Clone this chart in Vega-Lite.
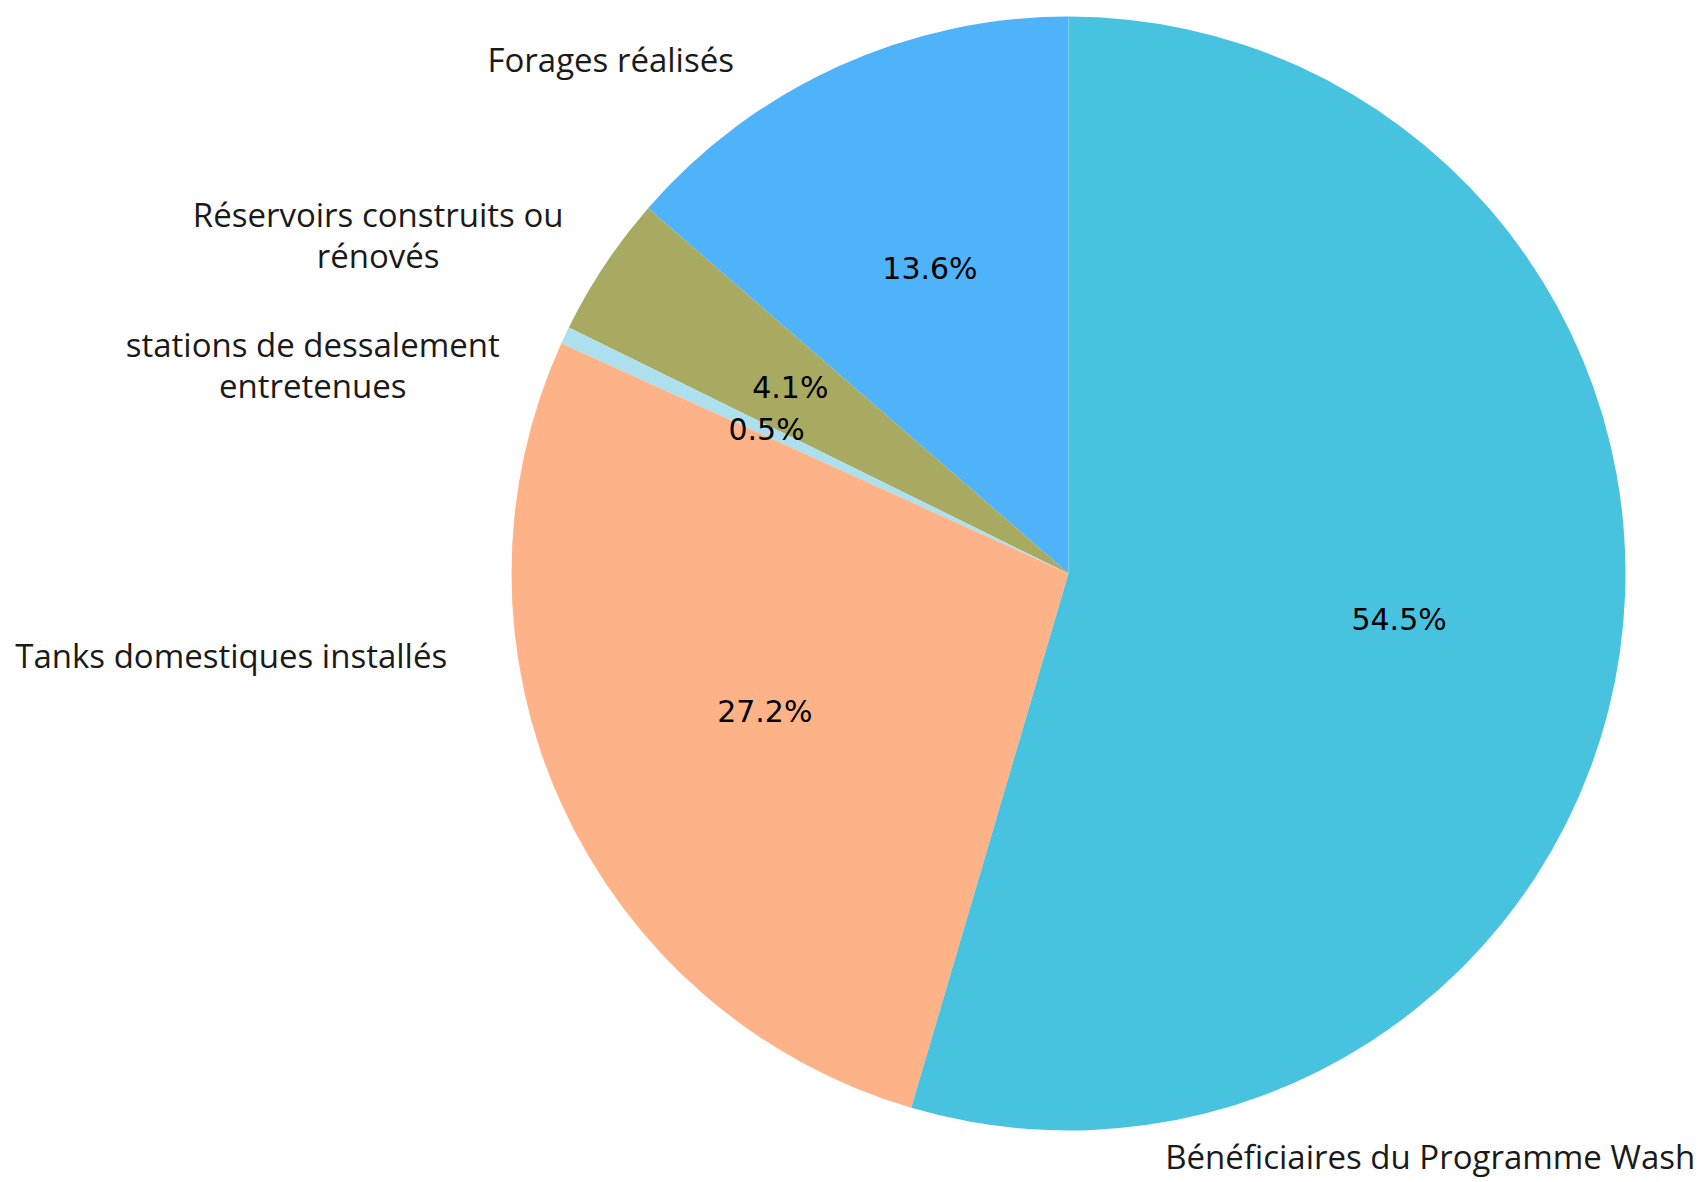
{
  "$schema": "https://vega.github.io/schema/vega-lite/v6.json",
  "width": 1277,
  "height": 1147,
  "autosize": {"type": "none"},
  "padding": {"left": 430, "top": 0, "right": 0, "bottom": 35},
  "background": "white",
  "config": {"view": {"stroke": null}},
  "data": {
    "values": [
      {"category": "Forages réalisés", "share": 0.136},
      {"category": "Réservoirs construits ou\nrénovés", "share": 0.041},
      {"category": "stations de dessalement\nentretenues", "share": 0.005},
      {"category": "Tanks domestiques installés", "share": 0.272},
      {"category": "Bénéficiaires du Programme Wash", "share": 0.545}
    ]
  },
  "transform": [
    {"window": [{"op": "row_number", "as": "idx"}]},
    {"stack": "share", "groupby": [], "offset": "normalize", "sort": [{"field": "idx", "order": "descending"}], "as": ["s0", "s1"]},
    {"calculate": "(datum.s0 + datum.s1) / 2", "as": "mid"}
  ],
  "layer": [
    {
      "mark": {"type": "arc", "radius": 557},
      "encoding": {
        "theta": {"field": "s0", "type": "quantitative", "scale": {"domain": [0, 1], "nice": false}},
        "theta2": {"field": "s1"},
        "color": {
          "field": "category",
          "type": "nominal",
          "legend": null,
          "scale": {
            "domain": ["Forages réalisés", "Réservoirs construits ou\nrénovés", "stations de dessalement\nentretenues", "Tanks domestiques installés", "Bénéficiaires du Programme Wash"],
            "range": ["#4FB3FA", "#A7AA60", "#ADE0EF", "#FDB387", "#47C3E0"]
          }
        }
      }
    },
    {
      "mark": {"type": "text", "radius": 334, "font": "DejaVu Sans", "fontSize": 30, "color": "black", "align": "center", "baseline": "middle"},
      "encoding": {
        "theta": {"field": "mid", "type": "quantitative"},
        "text": {"field": "share", "type": "quantitative", "format": ".1%"}
      }
    },
    {
      "transform": [{"filter": "datum.category === 'Forages réalisés'"}],
      "mark": {"type": "text", "radius": 612.7, "thetaOffset": -0.150, "dy": 2, "font": "Open Sans", "fontSize": 33, "color": "#1a1a1a", "align": "right", "baseline": "middle"},
      "encoding": {"theta": {"field": "mid", "type": "quantitative"}, "text": {"field": "category"}}
    },
    {
      "transform": [{"filter": "indexof(datum.category, 'Réservoirs') === 0"}],
      "mark": {"type": "text", "radius": 777.7, "thetaOffset": -0.108, "dy": 2, "font": "Open Sans", "fontSize": 33, "color": "#1a1a1a", "align": "center", "baseline": "middle", "lineBreak": "\n", "lineHeight": 41},
      "encoding": {"theta": {"field": "mid", "type": "quantitative"}, "text": {"field": "category"}}
    },
    {
      "transform": [{"filter": "indexof(datum.category, 'stations') === 0"}],
      "mark": {"type": "text", "radius": 789.6, "thetaOffset": -0.148, "dy": 2, "font": "Open Sans", "fontSize": 33, "color": "#1a1a1a", "align": "center", "baseline": "middle", "lineBreak": "\n", "lineHeight": 41},
      "encoding": {"theta": {"field": "mid", "type": "quantitative"}, "text": {"field": "category"}}
    },
    {
      "transform": [{"filter": "datum.category === 'Tanks domestiques installés'"}],
      "mark": {"type": "text", "radius": 626.7, "thetaOffset": 0.298, "dy": 2, "font": "Open Sans", "fontSize": 33, "color": "#1a1a1a", "align": "right", "baseline": "middle"},
      "encoding": {"theta": {"field": "mid", "type": "quantitative"}, "text": {"field": "category"}}
    },
    {
      "transform": [{"filter": "datum.category === 'Bénéficiaires du Programme Wash'"}],
      "mark": {"type": "text", "radius": 596.5, "thetaOffset": 1.265, "dy": -3, "font": "Open Sans", "fontSize": 33, "color": "#1a1a1a", "align": "left", "baseline": "middle"},
      "encoding": {"theta": {"field": "mid", "type": "quantitative"}, "text": {"field": "category"}}
    }
  ]
}
